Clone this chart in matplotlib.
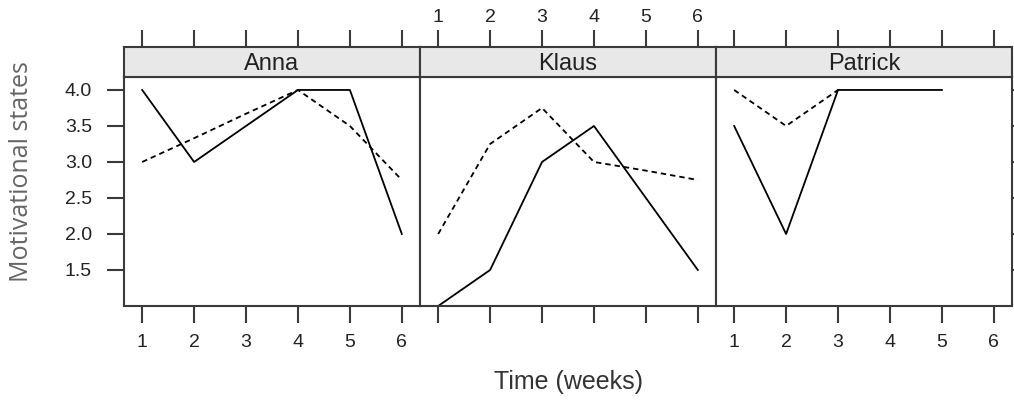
import numpy as np
import matplotlib
matplotlib.use("Agg")
import matplotlib.pyplot as plt

plt.rcParams["font.family"] = ["Liberation Sans", "DejaVu Sans"]

# Daten
weeks = [1, 2, 3, 4, 5, 6]
names = ["Anna", "Klaus", "Patrick"]
solid = {
    "Anna": [4.0, 3.0, 3.5, 4.0, 4.0, 2.0],
    "Klaus": [1.0, 1.5, 3.0, 3.5, 2.5, 1.5],
    "Patrick": [3.5, 2.0, 4.0, 4.0, 4.0, np.nan],
}
dashed = {
    "Anna": [3.0, 3.33, 3.67, 4.0, 3.5, 2.75],
    "Klaus": [2.0, 3.25, 3.75, 3.0, 2.88, 2.75],
    "Patrick": [4.0, 3.5, 4.0, np.nan, np.nan, np.nan],
}
yticks = [1.5, 2.0, 2.5, 3.0, 3.5, 4.0]

W, H = 1014, 403
fig = plt.figure(figsize=(W / 100, H / 100), dpi=100)

def box(x0, y0, x1, y1):
    return [x0 / W, 1 - y1 / H, (x1 - x0) / W, (y1 - y0) / H]

edges = [124, 420, 716, 1012]
border = "#3a3a3a"
txt = "#222222"

for i, n in enumerate(names):
    x0, x1 = edges[i], edges[i + 1]
    ax = fig.add_axes(box(x0, 77, x1, 306))
    ax.plot(weeks, solid[n], color="black", lw=1.3)
    ax.plot(weeks, dashed[n], color="black", lw=1.3, ls=(0, (3, 2.2)))
    ax.set_xlim(0.65, 6.35)
    ax.set_ylim(1.0, 4.18)
    ax.set_xticks(weeks)
    ax.set_yticks(yticks)
    for s in ax.spines.values():
        s.set_color(border)
        s.set_linewidth(1.5)
    ax.tick_params(axis="both", direction="out", length=12, width=1.5,
                   color=border, labelsize=14, labelcolor=txt)
    ax.tick_params(axis="x", pad=8)
    ax.tick_params(axis="y", pad=11)
    if i != 1:
        ax.set_xticklabels([str(w) for w in weeks])
    else:
        ax.set_xticklabels([])
    if i == 0:
        ax.set_yticklabels(["%.1f" % v for v in yticks])
    elif i == 2:
        ax.yaxis.tick_right()
        ax.set_yticklabels([])
    else:
        ax.tick_params(axis="y", left=False, labelleft=False)

    # Streifen
    st = fig.add_axes(box(x0, 47, x1, 77))
    st.set_facecolor("#e8e8e8")
    st.set_xlim(0.65, 6.35)
    st.set_xticks(weeks)
    st.set_yticks([])
    st.xaxis.tick_top()
    st.tick_params(axis="x", direction="out", length=12, width=1.5,
                   color=border, labelsize=14, labelcolor=txt, pad=3)
    if i == 1:
        st.set_xticklabels([str(w) for w in weeks])
    else:
        st.set_xticklabels([])
    for s in st.spines.values():
        s.set_color(border)
        s.set_linewidth(1.5)
    st.text(0.5, 0.45, n, transform=st.transAxes, ha="center", va="center",
            fontsize=17, color=txt)

fig.text(22 / W, 1 - 172 / H, "Motivational states", rotation=90,
         ha="center", va="center", fontsize=18, color="#666666",
         family=["Open Sans", "DejaVu Sans"])
fig.text(568 / W, 1 - 382 / H, "Time (weeks)", ha="center", va="center",
         fontsize=18, color="#333333")

fig.savefig("out.png", dpi=100)
